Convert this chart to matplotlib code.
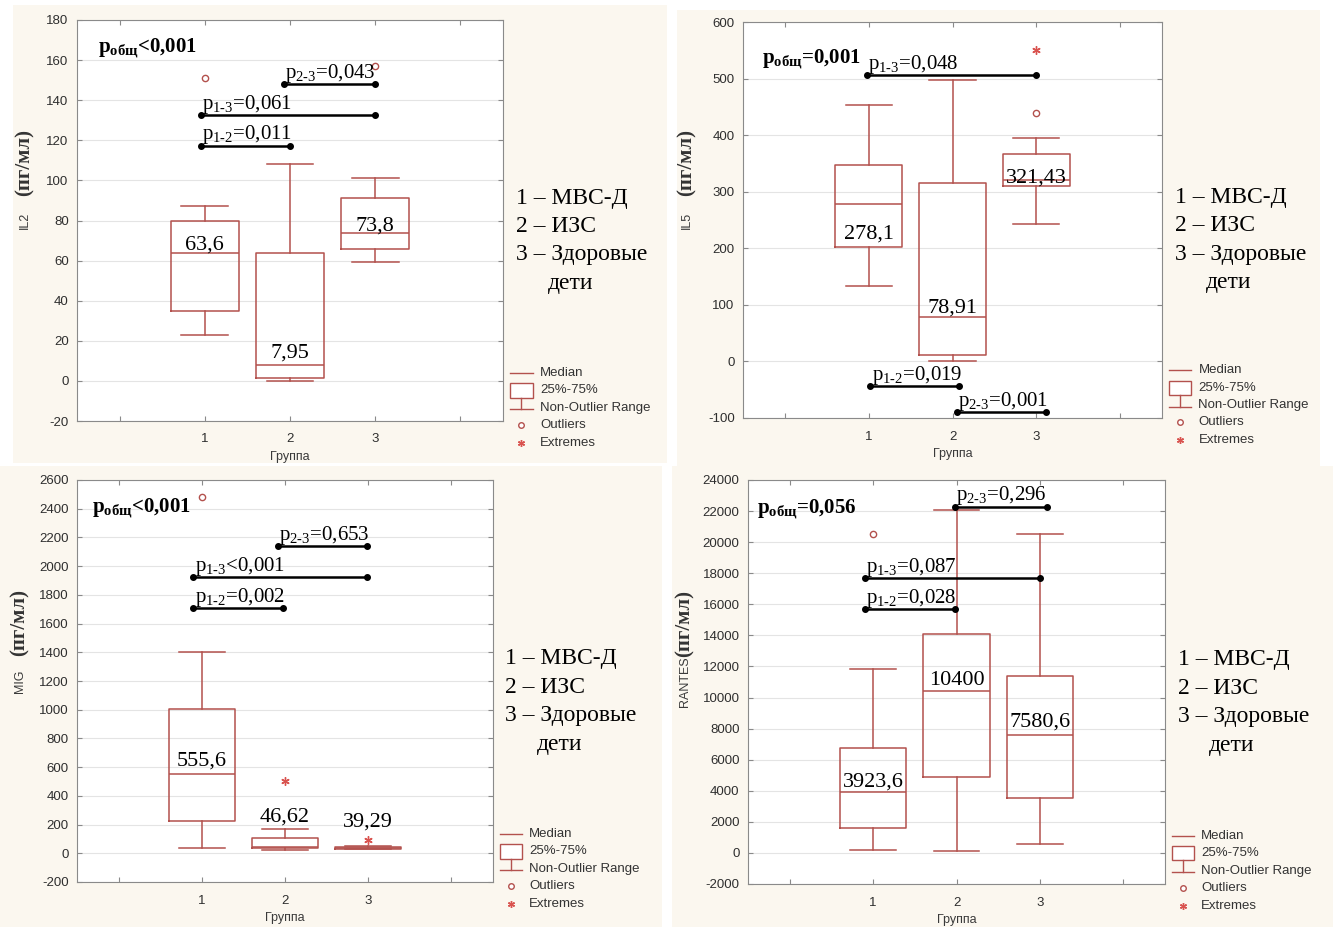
import matplotlib.pyplot as plt
from matplotlib.patches import Rectangle

plt.rcParams['font.family'] = ['Liberation Sans', 'DejaVu Sans']
plt.rcParams['axes.unicode_minus'] = False
plt.rcParams['mathtext.fontset'] = 'custom'
plt.rcParams['mathtext.rm'] = 'Liberation Serif'
plt.rcParams['mathtext.it'] = 'Liberation Serif:italic'
plt.rcParams['mathtext.bf'] = 'Liberation Serif:bold'

groups = [1, 2, 3]
group_names = ['1 – МВС-Д', '2 – ИЗС', '3 – Здоровые', 'дети']
key_labels = ['Median', '25%-75%', 'Non-Outlier Range', 'Outliers', 'Extremes']

# IL2
il2_whislo = [22.7, 0.0, 59.2]
il2_q1 = [35.0, 1.5, 65.6]
il2_med = [63.6, 7.95, 73.8]
il2_q3 = [80.0, 63.6, 91.0]
il2_whishi = [87.0, 108.0, 101.0]
il2_outliers = [[151.0], [], [157.0]]
il2_extremes = [[], [], []]
il2_med_text = ['63,6', '7,95', '73,8']
il2_p_all = '<0,001'
il2_pairs = ['1-2', '1-3', '2-3']
il2_p = ['=0,011', '=0,061', '=0,043']
il2_bar_x = [(0.95, 2.0), (0.95, 3.0), (1.93, 3.0)]
il2_bar_y = [117.3, 132.5, 148.0]

# IL5
il5_whislo = [134.0, 1.0, 243.0]
il5_q1 = [203.0, 10.6, 310.0]
il5_med = [278.1, 78.91, 321.43]
il5_q3 = [348.0, 315.0, 366.0]
il5_whishi = [454.0, 497.0, 395.0]
il5_outliers = [[], [], [440.0]]
il5_extremes = [[], [], [550.0]]
il5_med_text = ['278,1', '78,91', '321,43']
il5_p_all = '=0,001'
il5_pairs = ['1-3', '1-2', '2-3']
il5_p = ['=0,048', '=0,019', '=0,001']
il5_bar_x = [(0.98, 3.0), (1.02, 2.08), (2.05, 3.11)]
il5_bar_y = [506.0, -44.0, -89.0]

# MIG
mig_whislo = [40.0, 26.0, 28.0]
mig_q1 = [223.0, 37.0, 33.0]
mig_med = [555.6, 46.62, 39.29]
mig_q3 = [1004.0, 107.0, 45.0]
mig_whishi = [1403.0, 167.0, 50.0]
mig_outliers = [[2484.0], [], []]
mig_extremes = [[], [504.0], [91.0]]
mig_med_text = ['555,6', '46,62', '39,29']
mig_p_all = '<0,001'
mig_pairs = ['1-2', '1-3', '2-3']
mig_p = ['=0,002', '<0,001', '=0,653']
mig_bar_x = [(0.9, 1.97), (0.9, 2.98), (1.91, 2.98)]
mig_bar_y = [1710.0, 1924.0, 2140.0]

# RANTES
ran_whislo = [167.0, 103.0, 553.0]
ran_q1 = [1583.0, 4865.0, 3553.0]
ran_med = [3923.6, 10400.0, 7580.6]
ran_q3 = [6732.0, 14088.0, 11404.0]
ran_whishi = [11816.0, 22068.0, 20523.0]
ran_outliers = [[20504.0], [], []]
ran_extremes = [[], [], []]
ran_med_text = ['3923,6', '10400', '7580,6']
ran_p_all = '=0,056'
ran_pairs = ['1-2', '1-3', '2-3']
ran_p = ['=0,028', '=0,087', '=0,296']
ran_bar_x = [(0.9, 1.98), (0.9, 3.0), (1.98, 3.08)]
ran_bar_y = [15697.0, 17673.0, 22281.0]

C_BOX = '#b3514d'
C_EXT = '#d9534f'
CREAM = '#fbf7ef'
SERIF = 'Liberation Serif'

W, H = 1333, 927
fig = plt.figure(figsize=(13.33, 9.27), dpi=100, facecolor='white')

for x0, y0, x1, y1 in [(13, 5, 667, 463), (677, 10, 1320, 467),
                       (0, 466, 662, 927), (672, 466, 1333, 927)]:
    fig.patches.append(Rectangle((x0 / W, 1 - y1 / H), (x1 - x0) / W, (y1 - y0) / H,
                                 transform=fig.transFigure, facecolor=CREAM,
                                 edgecolor='none', zorder=-10))


def draw_panel(rect, name, ylim, ystep, whislo, q1, med, q3, whishi, outliers, extremes,
               med_text, med_dy, p_all, pairs, p_vals, bar_x, bar_y, ylab_x, pall_xy):
    ax = fig.add_axes([rect[0] / W, 1 - rect[3] / H, (rect[2] - rect[0]) / W,
                       (rect[3] - rect[1]) / H])
    ax.set_facecolor('white')
    stats = [dict(med=m, q1=a, q3=b, whislo=lo, whishi=hi, fliers=[])
             for m, a, b, lo, hi in zip(med, q1, q3, whislo, whishi)]
    lp = dict(color=C_BOX, lw=1.1)
    ax.bxp(stats, positions=groups, widths=0.8, capwidths=0.55, showfliers=False,
           boxprops=lp, whiskerprops=lp, capprops=lp, medianprops=lp)
    for g, ys in zip(groups, outliers):
        ax.plot([g] * len(ys), ys, 'o', mfc='white', mec=C_BOX, ms=4.5, mew=1)
    for g, ys in zip(groups, extremes):
        ax.plot([g] * len(ys), ys, marker=(6, 2, 0), ls='none', color=C_EXT, ms=6, mew=1)
    for g, m, t, dy in zip(groups, med, med_text, med_dy):
        ax.annotate(t, (g, m), xytext=(0, dy), textcoords='offset points',
                    ha='center', va='baseline', family=SERIF, fontsize=16)
    for (xa, xb), y, pr, pv in zip(bar_x, bar_y, pairs, p_vals):
        ax.plot([xa, xb], [y, y], '-o', color='black', lw=1.8, ms=4, zorder=5)
        ax.annotate('p$_{\\text{%s}}$%s' % (pr, pv), (xa, y), xytext=(1, 4.5),
                    textcoords='offset points', ha='left', va='baseline',
                    family=SERIF, fontsize=15)
    ax.text(pall_xy[0], pall_xy[1], 'p$_{\\mathbf{общ}}$' + p_all, transform=ax.transAxes,
            family=SERIF, fontweight='bold', fontsize=15, va='baseline')

    ax.set_xlim(-0.5, 4.5)
    ax.set_xticks([0, 1, 2, 3, 4])
    ax.set_xticklabels(['', '1', '2', '3', ''])
    ax.set_ylim(*ylim)
    ax.set_yticks(range(ylim[0], ylim[1] + 1, ystep))
    ax.yaxis.grid(True, color='#e4e4e4', lw=0.8)
    ax.set_axisbelow(True)
    ax.tick_params(direction='in', length=3.5, top=True, right=True, color='#8a8a8a',
                   labelsize=9.5, labelcolor='#2e2e2e', pad=6)
    ax.tick_params(axis='x', pad=9)
    for s in ax.spines.values():
        s.set_color('#8a8a8a')
    ax.set_xlabel('Группа', fontsize=9, color='#3a3a3a', labelpad=4)
    ax.text(ylab_x, 0.5, name, rotation=90, transform=ax.transAxes, ha='center',
            va='center', fontsize=9, color='#3a3a3a')
    ax.text(ylab_x, 0.645, '(пг/мл)', rotation=90, transform=ax.transAxes, ha='center',
            va='center', family=SERIF, fontweight='bold', fontsize=15, color='#333333')

    # group names
    for i, t in enumerate(group_names):
        ax.text(1.03 + (0.075 if i == 3 else 0), 0.556 - i * 0.071, t, transform=ax.transAxes,
                family=SERIF, fontsize=17, va='center', ha='left', clip_on=False)

    # box key
    kx0, kx1, ky, dk = 1.016, 1.07, 0.12, 0.0436
    kxm = (kx0 + kx1) / 2
    kw = dict(transform=ax.transAxes, clip_on=False, color=C_BOX, lw=1)
    ax.plot([kx0, kx1], [ky, ky], **kw)
    ax.add_patch(Rectangle((kx0, ky - dk - 0.018), kx1 - kx0, 0.036, transform=ax.transAxes,
                           clip_on=False, facecolor='white', edgecolor=C_BOX, lw=1))
    ax.plot([kxm, kxm], [ky - dk - 0.018, ky - 2 * dk - 0.004], **kw)
    ax.plot([kx0, kx1], [ky - 2 * dk - 0.004, ky - 2 * dk - 0.004], **kw)
    ax.plot([kxm], [ky - 3 * dk], 'o', mfc='white', mec=C_BOX, ms=4, mew=1,
            transform=ax.transAxes, clip_on=False)
    ax.plot([kxm], [ky - 4 * dk], marker=(6, 2, 0), color=C_EXT, ms=5, mew=1,
            transform=ax.transAxes, clip_on=False)
    for i, t in enumerate(key_labels):
        ax.text(1.087, ky - i * dk, t, transform=ax.transAxes, fontsize=9.5,
                color='#333333', va='center', ha='left', clip_on=False)
    return ax


draw_panel((77, 20, 503, 421), 'IL2', (-20, 180), 20, il2_whislo, il2_q1, il2_med, il2_q3,
           il2_whishi, il2_outliers, il2_extremes, il2_med_text, [3, 5, 2], il2_p_all,
           il2_pairs, il2_p, il2_bar_x, il2_bar_y, -0.122, (0.05, 0.918))
draw_panel((743, 22, 1162, 418), 'IL5', (-100, 600), 100, il5_whislo, il5_q1, il5_med, il5_q3,
           il5_whishi, il5_outliers, il5_extremes, il5_med_text, [-25, 3.4, -2], il5_p_all,
           il5_pairs, il5_p, il5_bar_x, il5_bar_y, -0.134, (0.045, 0.896))
draw_panel((77, 480, 493, 882), 'MIG', (-200, 2600), 200, mig_whislo, mig_q1, mig_med, mig_q3,
           mig_whishi, mig_outliers, mig_extremes, mig_med_text, [6, 18, 15], mig_p_all,
           mig_pairs, mig_p, mig_bar_x, mig_bar_y, -0.137, (0.036, 0.918))
draw_panel((748, 480, 1165, 884), 'RANTES', (-2000, 24000), 2000, ran_whislo, ran_q1, ran_med,
           ran_q3, ran_whishi, ran_outliers, ran_extremes, ran_med_text, [4, 4.5, 6.5],
           ran_p_all, ran_pairs, ran_p, ran_bar_x, ran_bar_y, -0.151, (0.022, 0.918))

fig.savefig('out.png', dpi=100, facecolor=fig.get_facecolor())
